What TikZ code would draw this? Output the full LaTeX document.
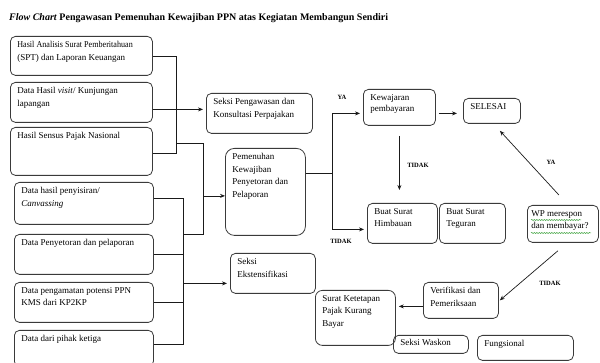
\documentclass[tikz,border=0pt]{standalone}
\usepackage{fontspec}
\setmainfont{Liberation Serif}
\usepackage{xcolor}
\usetikzlibrary{arrows.meta,positioning,calc,decorations.pathmorphing}
\definecolor{FcLine}{HTML}{1A1A1A}
\definecolor{FcBorder}{HTML}{3A3A3A}
\definecolor{FcSpell}{HTML}{3FA33F}
\newcommand{\fcbody}[3]{\parbox[c][\dimexpr#2pt-10pt\relax][t]{\dimexpr#1pt-14pt\relax}{\raggedright #3}}

\begin{document}
\begin{tikzpicture}[x=1pt, y=-1pt,
    fcnode/.style={draw=FcBorder, line width=0.8pt, rounded corners=5pt,
                   anchor=north west, inner xsep=7pt, inner ysep=5pt,
                   font=\fontsize{9}{12.5}\selectfont},
    fcline/.style={draw=FcLine, line width=0.7pt},
    fcarrow/.style={fcline, -{Stealth[length=5pt,width=4pt]}},
    fclabel/.style={font=\fontsize{6.5}{7}\selectfont\bfseries, inner sep=0pt},
    spell/.style={draw=FcSpell, line width=0.5pt,
                  decorate, decoration={snake, amplitude=0.6pt, segment length=2.5pt}}]
  \useasboundingbox (0,0) rectangle (600,363);

  % title
  \node[anchor=west, inner sep=0pt, font=\fontsize{10}{12}\selectfont\bfseries] (title) at (9,18)
    {\textit{Flow Chart} Pengawasan Pemenuhan Kewajiban PPN atas Kegiatan Membangun Sendiri};

  % data sources (left column)
  \node[fcnode] (hasil) at (10,36) {\fcbody{142}{39}{\scalebox{0.9}[1]{Hasil Analisis Surat Pemberitahuan}\\(SPT) dan Laporan Keuangan}};
  \node[fcnode] (visit) at (10,82) {\fcbody{142}{40}{Data Hasil \textit{visit}/ Kunjungan\\lapangan}};
  \node[fcnode] (sensus) at (10,127) {\fcbody{142}{48}{Hasil Sensus Pajak Nasional}};
  \node[fcnode] (sisir) at (14,182) {\fcbody{139}{42}{Data hasil penyisiran/\\\textit{Canvassing}}};
  \node[fcnode] (setor) at (14,234) {\fcbody{139}{40}{Data Penyetoran dan pelaporan}};
  \node[fcnode] (amat) at (14,282) {\fcbody{139}{40}{Data pengamatan potensi PPN\\KMS dari KP2KP}};
  \node[fcnode] (ketiga) at (14,330) {\fcbody{139}{36}{Data dari pihak ketiga}};

  % units and process
  \node[fcnode] (awas) at (206,93) {\fcbody{106}{40}{Seksi Pengawasan dan\\Konsultasi Perpajakan}};
  \node[fcnode, rounded corners=9pt] (penuhi) at (225,148) {\fcbody{80}{87}{Pemenuhan\\Kewajiban\\Penyetoran dan\\Pelaporan}};
  \node[fcnode] (ekstensif) at (230,253) {\fcbody{85}{40}{Seksi\\Ekstensifikasi}};
  \node[fcnode, font=\fontsize{9}{11.5}\selectfont] (wajar) at (363,89) {\fcbody{72}{36}{Kewajaran\\pembayaran}};
  \node[fcnode] (selesai) at (463,98) {\fcbody{57}{25}{SELESAI}};
  \node[fcnode] (himbau) at (367,203) {\fcbody{70}{40}{Buat Surat\\Himbauan}};
  \node[fcnode] (tegur) at (439,203) {\fcbody{66}{40}{Buat Surat\\Teguran}};
  \node[fcnode] (respon) at (527,205) {\fcbody{71}{37}{\hspace*{-3pt}WP merespon\\\hspace*{-3pt}dan~membayar?}};
  \node[fcnode] (verif) at (423,282) {\fcbody{75}{36}{Verifikasi dan\\Pemeriksaan}};
  \node[fcnode, rounded corners=7pt] (skpkb) at (315,290) {\fcbody{80}{55}{Surat Ketetapan\\Pajak Kurang\\Bayar}};
  \node[fcnode, inner ysep=4pt] (waskon) at (393,335) {\fcbody{75}{20}{Seksi Waskon}};
  \node[fcnode] (fungsi) at (477,335) {\fcbody{96}{25}{Fungsional}};

  % spell-check marks under the question
  \draw[spell] ([xshift=4pt,yshift=-15pt]respon.north west) -- ++(50,0);
  \draw[spell] ([xshift=4pt,yshift=-28pt]respon.north west) -- ++(60,0);

  % junction points
  \coordinate (busA) at (176,143);
  \coordinate (busB) at (203,143);
  \coordinate (busC) at (183,234);
  \coordinate (fork) at (332,173);
  \coordinate (penIn) at ([yshift=-4pt]penuhi.west);
  \coordinate (eksIn) at ([yshift=-10pt]ekstensif.west);

  % upper group of sources
  \draw[fcline] (hasil.east) -- (hasil.east -| busA) -- ([yshift=-2pt]sensus.east -| busA) -- ([yshift=-2pt]sensus.east);
  \draw[fcarrow, shorten >=3pt] ([yshift=-7pt]visit.east) -- ([yshift=-7pt]visit.east -| awas.west);
  \draw[fcline] (busA) -- (busB) -- (busB |- busC) -- (busC);
  \draw[fcarrow] (busB |- penIn) -- (penIn);

  % lower group of sources
  \draw[fcline] ([yshift=5pt]sisir.east) -- ([yshift=5pt]sisir.east -| busC) -- ([yshift=4pt]ketiga.east -| busC) -- ([yshift=4pt]ketiga.east);
  \draw[fcline] (setor.east) -- (setor.east -| busC);
  \draw[fcline] (amat.east) -- (amat.east -| busC);
  \draw[fcarrow, shorten >=3pt] (busC |- eksIn) -- (eksIn);

  % process flow
  \draw[fcline] (penuhi.east |- fork) -- (fork);
  \draw[fcarrow, shorten >=3pt] (fork) |- ([yshift=-6pt]wajar.west);
  \draw[fcarrow, shorten >=3pt] (fork) |- ([yshift=-6pt]himbau.west);
  \draw[fcarrow, shorten <=3pt, shorten >=6pt] ([yshift=-6pt]wajar.east) -- ([yshift=-6pt]wajar.east -| selesai.west);
  \draw[fcarrow, shorten <=10pt, shorten >=13pt] (wajar.south) -- (wajar.south |- himbau.north);
  \draw[fcarrow] ([xshift=-4pt,yshift=10pt]respon.north) -- ([xshift=8pt,yshift=-7pt]selesai.south);
  \draw[fcarrow] ([xshift=-5pt,yshift=-8pt]respon.south) -- ([xshift=1pt]verif.east);
  \draw[fcarrow, shorten >=3pt] ([yshift=-6pt]verif.west) -- ([yshift=-6pt]verif.west -| skpkb.east);

  % decision labels
  \node[fclabel] (ya1) at (342,97) {YA};
  \node[fclabel] (tidak1) at (418,165) {TIDAK};
  \node[fclabel] (tidak2) at (341,241) {TIDAK};
  \node[fclabel] (ya2) at (551,162) {YA};
  \node[fclabel] (tidak3) at (550,283) {TIDAK};
\end{tikzpicture}
\end{document}
